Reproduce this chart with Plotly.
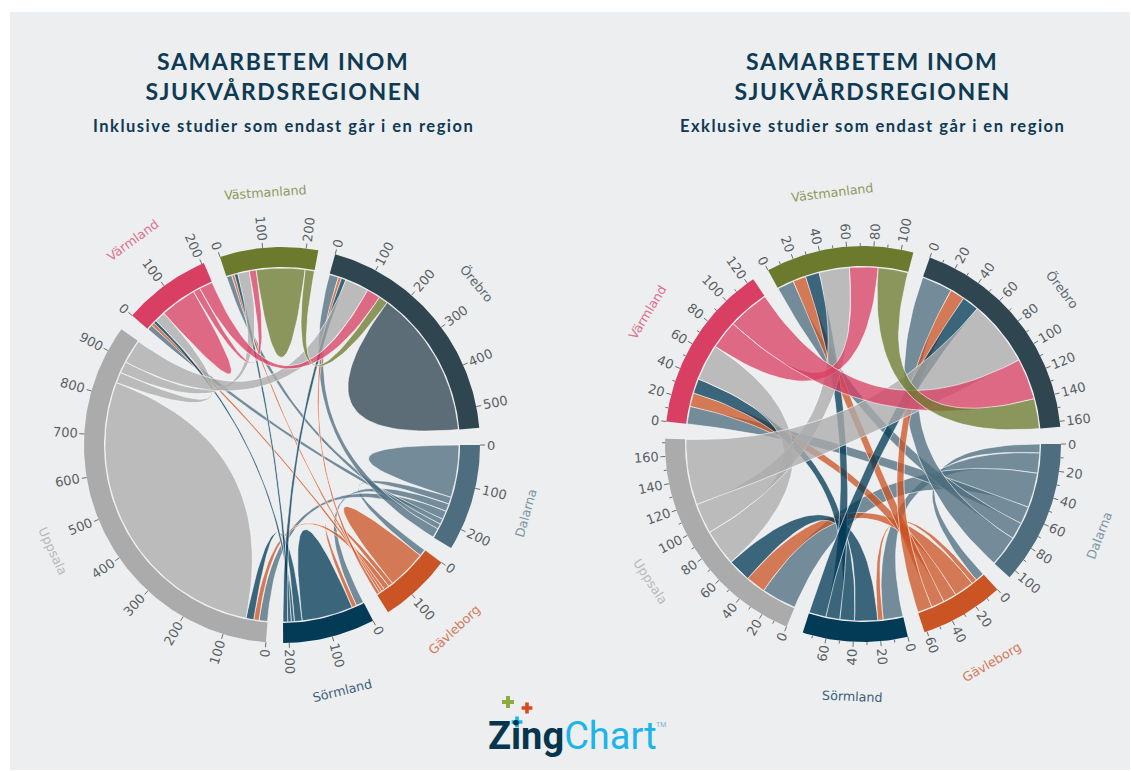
import math
import plotly.graph_objects as go

# ---------- data ----------
groups = ["Dalarna", "Gävleborg", "Sörmland", "Uppsala", "Värmland", "Västmanland", "Örebro"]
seg_colors = ["#4E6D7E", "#CB5425", "#033A55", "#ABABAB", "#D93F62", "#6C7A2D", "#2F4550"]
label_colors = ["#7E97A5", "#D6795A", "#3A5F78", "#B9B9B9", "#E0708C", "#8E9A5C", "#5C6B74"]

# Inclusive (left) flows
inkl_dalarna = [136, 18, 20, 22, 14, 14, 24]
inkl_gavleborg = [18, 101, 12, 14, 8, 7, 8]
inkl_sormland = [20, 12, 133, 20, 8, 9, 12]
inkl_uppsala = [22, 14, 20, 782, 28, 30, 62]
inkl_varmland = [14, 8, 8, 28, 94, 18, 35]
inkl_vastmanland = [14, 7, 9, 30, 18, 126, 24]
inkl_orebro = [24, 8, 12, 62, 35, 24, 384]
inkl_matrix = [inkl_dalarna, inkl_gavleborg, inkl_sormland, inkl_uppsala,
               inkl_varmland, inkl_vastmanland, inkl_orebro]

# Exclusive (right) flows
exkl_dalarna = [0, 7.4, 16.5, 28.7, 14.5, 13.7, 25.4]
exkl_gavleborg = [7.4, 0, 4.4, 16.2, 11.2, 10.7, 12]
exkl_sormland = [16.5, 4.4, 0, 19, 12, 11.5, 14]
exkl_uppsala = [28.7, 16.2, 19, 0, 30, 25, 54]
exkl_varmland = [14.5, 11.2, 12, 30, 0, 23.5, 34]
exkl_vastmanland = [13.7, 10.7, 11.5, 25, 23.5, 0, 24.6]
exkl_orebro = [25.4, 12, 14, 54, 34, 24.6, 0]
exkl_matrix = [exkl_dalarna, exkl_gavleborg, exkl_sormland, exkl_uppsala,
               exkl_varmland, exkl_vastmanland, exkl_orebro]

title_lines = ["SAMARBETEM INOM", "SJUKVÅRDSREGIONEN"]
inkl_subtitle = "Inklusive studier som endast går i en region"
exkl_subtitle = "Exklusive studier som endast går i en region"

# ---------- layout constants ----------
W, H = 1131, 771
BG = "#ECEEF0"
R_PX = 198.0
HALF_PX = 265.0
R_IN = 178.0 / R_PX
R_CH = 177.0 / R_PX
GAP = 5.0
START = 90.0
RIBBON_OPACITY = 0.76


def pol(deg, r):
    t = math.radians(deg)
    return r * math.sin(t), r * math.cos(t)


def arc(a0, a1, r):
    n = max(2, int(abs(a1 - a0) / 1.0) + 2)
    return [pol(a0 + (a1 - a0) * i / (n - 1), r) for i in range(n)]


def quad(a, b, r):
    p0, p2 = pol(a, r), pol(b, r)
    pts = []
    for i in range(1, 40):
        t = i / 40
        pts.append(((1 - t) ** 2 * p0[0] + t * t * p2[0], (1 - t) ** 2 * p0[1] + t * t * p2[1]))
    return pts


def rgba(hex_color, a):
    h = hex_color.lstrip("#")
    return f"rgba({int(h[:2],16)},{int(h[2:4],16)},{int(h[4:],16)},{a})"


def add_chord(fig, matrix, major, minor, ax, label_fs=13):
    xa, ya = f"x{ax}" if ax > 1 else "x", f"y{ax}" if ax > 1 else "y"
    n = len(matrix)
    totals = [sum(r) for r in matrix]
    k = (360 - n * GAP) / sum(totals)
    starts, spans = [], {}
    ang = START
    for i in range(n):
        starts.append(ang)
        pos = ang
        for j in range(n):
            spans[(i, j)] = (pos, pos + matrix[i][j] * k)
            pos += matrix[i][j] * k
        ang += totals[i] * k + GAP

    def add_poly(pts, color, line):
        fig.add_trace(go.Scatter(
            x=[p[0] for p in pts], y=[p[1] for p in pts], mode="lines", fill="toself",
            fillcolor=color, line=line, hoverinfo="skip", showlegend=False, xaxis=xa, yaxis=ya))

    white = dict(color="rgba(255,255,255,0.75)", width=0.8)
    for i in range(n):
        for j in range(i, n):
            if matrix[i][j] <= 0:
                continue
            a0, a1 = spans[(i, j)]
            col = rgba(seg_colors[i], RIBBON_OPACITY)
            if i == j:
                pts = arc(a0, a1, R_CH) + quad(a1, a0, R_CH)
            else:
                b0, b1 = spans[(j, i)]
                pts = arc(a0, a1, R_CH) + quad(a1, b0, R_CH) + arc(b0, b1, R_CH) + quad(b1, a0, R_CH)
            pts.append(pts[0])
            add_poly(pts, col, white)

    annos = []
    tx, ty = [], []
    for i in range(n):
        a0 = starts[i]
        a1 = a0 + totals[i] * k
        pts = arc(a0, a1, 1.0) + arc(a1, a0, R_IN)
        pts.append(pts[0])
        add_poly(pts, seg_colors[i], dict(width=0))

        v = 0
        while v <= totals[i]:
            deg = a0 + v * k
            is_major = abs(v / major - round(v / major)) < 1e-9
            p, q = pol(deg, 1.0), pol(deg, 1 + (5 if is_major else 3) / R_PX)
            tx += [p[0], q[0], None]
            ty += [p[1], q[1], None]
            if is_major:
                text = str(int(v))
                half = len(text) * 4.1
                cx, cy = pol(deg, 1 + (7 + half) / R_PX)
                d = deg % 360
                rot = d - 90 if d < 180 else d + 90
                rot = (rot + 180) % 360 - 180
                annos.append(dict(x=cx, y=cy, xref=xa, yref=ya, text=text, showarrow=False,
                                  textangle=rot, xanchor="center", yanchor="middle",
                                  font=dict(family="DejaVu Sans", size=label_fs, color="#5A5F63")))
            v += minor

        mid = (a0 + a1) / 2
        d = mid % 360
        rot = d if d < 90 else (d - 180 if d < 270 else d - 360)
        lx, ly = pol(mid, 253 / R_PX)
        annos.append(dict(x=lx, y=ly, xref=xa, yref=ya, text=groups[i], showarrow=False,
                          textangle=rot, xanchor="center", yanchor="middle",
                          font=dict(family="DejaVu Sans", size=12.7, color=label_colors[i])))
    fig.add_trace(go.Scatter(x=tx, y=ty, mode="lines", line=dict(color="#6A6F73", width=1),
                             hoverinfo="skip", showlegend=False, xaxis=xa, yaxis=ya))
    return annos


def axis_dom(cx, cy):
    return ([(cx - HALF_PX) / W, (cx + HALF_PX) / W],
            [(H - cy - HALF_PX) / H, (H - cy + HALF_PX) / H])


fig = go.Figure()
annotations = []
annotations += add_chord(fig, inkl_matrix, 100, 100, 1)
annotations += add_chord(fig, exkl_matrix, 20, 10, 2)

rng = [-HALF_PX / R_PX, HALF_PX / R_PX]
dx1, dy1 = axis_dom(282, 445)
dx2, dy2 = axis_dom(863, 444)
ax_style = dict(visible=False, range=rng, fixedrange=True)


def px(x, y):
    return dict(x=x / W, y=1 - y / H, xref="paper", yref="paper", showarrow=False,
                xanchor="center", yanchor="middle")


NAVY = "#0F3A53"
for cx, sub in ((283, inkl_subtitle), (872, exkl_subtitle)):
    annotations.append(dict(px(cx, 61), text=f"<b>{title_lines[0]}</b>",
                            font=dict(family="Lato", size=23, color=NAVY)))
    annotations.append(dict(px(cx, 91), text=f"<b>{title_lines[1]}</b>",
                            font=dict(family="Lato", size=23, color=NAVY)))
    annotations.append(dict(px(cx, 126), text=f"<b>{sub}</b>",
                            font=dict(family="Lato", size=16.5, color=NAVY)))

# logo
annotations.append(dict(px(572, 736),
                        text='<b>Zing</b><span style="color:#1CB5EA">Chart</span>',
                        font=dict(family="Roboto", size=38, color="#05364E")))
annotations.append(dict(px(661, 725), text="TM", font=dict(family="Roboto", size=7, color="#7FB8D0")))

# logo plus marks, on a full-page pixel axis
fig.add_trace(go.Scatter(
    x=[508, 527, 517], y=[702, 708, 722], mode="markers", hoverinfo="skip", showlegend=False,
    marker=dict(symbol="cross", size=[10, 9, 9], color=["#8CAA3E", "#D8491F", "#1CB5EA"],
                opacity=1, line=dict(width=0)),
    xaxis="x3", yaxis="y3"))

fig.update_layout(
    width=W, height=H, margin=dict(l=0, r=0, t=0, b=0), autosize=False,
    paper_bgcolor="white", plot_bgcolor="rgba(0,0,0,0)", showlegend=False,
    xaxis=dict(ax_style, domain=dx1, anchor="y"), yaxis=dict(ax_style, domain=dy1, anchor="x"),
    xaxis2=dict(ax_style, domain=dx2, anchor="y2"), yaxis2=dict(ax_style, domain=dy2, anchor="x2"),
    xaxis3=dict(visible=False, range=[0, W], domain=[0, 1], anchor="y3", fixedrange=True),
    yaxis3=dict(visible=False, range=[H, 0], domain=[0, 1], anchor="x3", fixedrange=True),
    annotations=annotations,
    shapes=[dict(type="rect", xref="paper", yref="paper", x0=10 / W, x1=1130 / W,
                 y0=1 - 770 / H, y1=1 - 12 / H, fillcolor=BG, line=dict(width=0), layer="below")],
)
spacing_js = """
document.body.style.margin='0';document.body.style.overflow='hidden';
document.querySelectorAll('.annotation-text').forEach(function(t){
  var s=t.textContent;
  if(s.indexOf('SAMARBETEM')===0||s.indexOf('SJUKV')===0){t.style.letterSpacing='1.6px';}
  else if(s.indexOf('klusive studier')>0){t.style.letterSpacing='1.5px';}
});
"""
fig.write_html("out.html", config={"displayModeBar": False}, post_script=spacing_js)
